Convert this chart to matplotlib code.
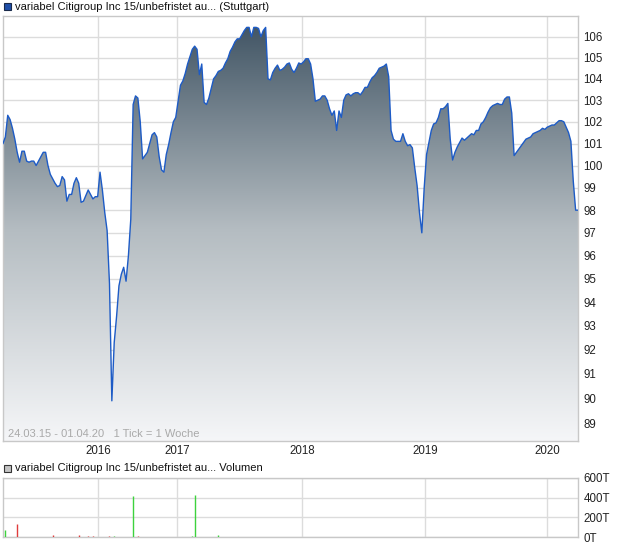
import numpy as np
import matplotlib
matplotlib.use("Agg")
import matplotlib.pyplot as plt
from matplotlib.colors import LinearSegmentedColormap
from matplotlib.ticker import FixedLocator, NullLocator, FixedFormatter
from matplotlib.patches import Rectangle

plt.rcParams["font.family"] = ["Liberation Sans", "DejaVu Sans"]

# weekly closing prices, 24.03.15 - 01.04.20 (1 tick = 1 week)
price = [
    101.0, 101.3, 102.3, 102.1, 101.7, 101.2, 100.6, 100.15, 100.65, 100.65,
    100.2, 100.15, 100.2, 100.2, 100.0, 100.2, 100.4, 100.6, 100.6, 100.0,
    99.6, 99.4, 99.2, 99.05, 99.1, 99.5, 99.35, 98.4, 98.7, 98.7,
    99.2, 99.45, 99.2, 98.35, 98.4, 98.65, 98.9, 98.7, 98.5, 98.6,
    98.6, 99.7, 98.9, 97.9, 97.1, 94.8, 89.9, 92.3, 93.4, 94.7,
    95.2, 95.5, 94.9, 96.0, 97.6, 102.8, 103.2, 103.1, 102.0, 100.3,
    100.45, 100.6, 101.0, 101.4, 101.5, 101.3, 100.4, 99.8, 99.7, 100.5,
    100.95, 101.5, 102.0, 102.2, 102.95, 103.7, 103.9, 104.25, 104.7, 105.05,
    105.4, 105.55, 105.4, 104.2, 104.7, 102.9, 102.8, 103.1, 103.55, 104.0,
    104.15, 104.35, 104.4, 104.5, 104.75, 104.95, 105.3, 105.5, 105.75, 105.9,
    105.9, 106.1, 106.3, 106.45, 106.45, 106.0, 106.45, 106.45, 106.4, 106.0,
    106.3, 106.45, 104.0, 103.95, 104.3, 104.5, 104.65, 104.4, 104.45, 104.55,
    104.7, 104.75, 104.45, 104.3, 104.5, 104.75, 104.7, 104.8, 104.95, 104.95,
    104.7, 104.0, 102.95, 103.0, 103.05, 103.2, 103.2, 103.0, 102.6, 102.3,
    102.5, 101.6, 102.5, 102.2, 103.0, 103.25, 103.3, 103.2, 103.3, 103.35,
    103.35, 103.25, 103.4, 103.6, 103.6, 103.85, 104.05, 104.15, 104.3, 104.5,
    104.55, 104.6, 104.7, 104.1, 101.6, 101.2, 101.1, 101.1, 101.1, 101.45,
    101.1, 100.9, 100.95, 100.8, 99.9, 99.1, 97.9, 97.0, 99.0, 100.5,
    101.05, 101.6, 101.9, 101.95, 102.2, 102.6, 102.6, 102.7, 102.85, 101.2,
    100.25, 100.6, 100.85, 101.05, 101.25, 101.15, 101.25, 101.35, 101.45, 101.4,
    101.6, 101.6, 101.9, 102.0, 102.2, 102.45, 102.65, 102.75, 102.8, 102.85,
    102.8, 102.8, 103.05, 103.15, 103.15, 102.4, 100.45, 100.6, 100.75, 100.9,
    101.05, 101.2, 101.25, 101.3, 101.45, 101.5, 101.55, 101.6, 101.7, 101.65,
    101.75, 101.8, 101.85, 101.85, 101.95, 102.05, 102.05, 102.0, 101.75, 101.5,
    101.1, 99.3, 98.0, 98.0,
]

year_labels = ["2016", "2017", "2018", "2019", "2020"]
year_ticks = [40.2, 73.5, 126.4, 178.4, 229.9]
price_ticks = list(range(89, 107))

# volume (thousands) for weeks with trades
vol_week = [1, 6, 21, 32, 36, 38, 45, 47, 50, 55, 57, 80, 81, 91, 97, 130, 156]
vol_value = [72, 130, 20, 20, 15, 15, 15, 15, 5, 422, 15, 15, 432, 25, 5, 5, 5]
vol_up = [1, 0, 0, 0, 0, 0, 0, 1, 1, 1, 0, 1, 1, 1, 1, 0, 1]
vol_ticks = [0, 200, 400, 600]

GRID = "#dcdcdc"
FRAME = "#c8c8c8"
LINE = "#1d5bc6"
W, H = 620, 546

fig = plt.figure(figsize=(W / 100, H / 100), dpi=100)


def frac(x0, y0, x1, y1):
    return [x0 / W, 1 - y1 / H, (x1 - x0) / W, (y1 - y0) / H]


# ---- price panel ----
ax = fig.add_axes(frac(3, 16, 578, 441))
x = np.arange(len(price))
ax.set_yscale("log")

poly = ax.fill_between(x, price, 80, color="none", lw=0)
cmap = LinearSegmentedColormap.from_list("g", ["#f5f6f8", "#b4bcc1", "#3d5161"])
grad = np.linspace(0, 1, 256).reshape(-1, 1)
img = ax.imshow(grad, extent=(0, 1, 0, 1), transform=ax.transAxes, origin="lower",
                aspect="auto", cmap=cmap, zorder=2, interpolation="bilinear")
img.set_clip_path(poly.get_paths()[0], ax.transData)
ax.plot(x, price, color=LINE, lw=1.0, zorder=3)

ax.set_xlim(0, len(price) - 1)
ax.set_ylim(88.28, 107.0)
ax.yaxis.set_major_locator(FixedLocator(price_ticks))
ax.yaxis.set_major_formatter(FixedFormatter([str(t) for t in price_ticks]))
ax.yaxis.set_minor_locator(NullLocator())
ax.yaxis.tick_right()
ax.set_xticks(year_ticks)
ax.set_xticklabels(year_labels)
ax.tick_params(axis="y", length=0, pad=4, labelsize=8.3, labelcolor="#222222")
ax.tick_params(axis="x", length=0, pad=3, labelsize=8.3, labelcolor="#222222")
ax.grid(True, color=GRID, lw=1, zorder=0)
ax.set_axisbelow(True)
for s in ax.spines.values():
    s.set_color(FRAME)
    s.set_linewidth(1)
ax.text(0.009, 0.016, "24.03.15 - 01.04.20   1 Tick = 1 Woche", transform=ax.transAxes,
        fontsize=8, color="#a9a9a9", ha="left", va="center", zorder=4)

# ---- volume panel ----
av = fig.add_axes(frac(3, 478, 578, 537))
vcol = ["#3dd23d" if u else "#e03c3c" for u in vol_up]
av.vlines(vol_week, 0, vol_value, colors=vcol, lw=1.0, zorder=3)
av.set_xlim(0, len(price) - 1)
av.set_ylim(0, 600)
av.yaxis.tick_right()
av.set_yticks(vol_ticks)
av.set_yticklabels([f"{v}T" for v in vol_ticks])
av.set_xticks(year_ticks)
av.set_xticklabels([])
av.tick_params(axis="both", length=0, labelsize=8.3, labelcolor="#222222")
av.tick_params(axis="y", pad=4)
av.grid(True, color=GRID, lw=1, zorder=0)
av.set_axisbelow(True)
for s in av.spines.values():
    s.set_color(FRAME)
    s.set_linewidth(1)

# ---- legend rows ----
fig.patches.append(Rectangle((4 / W, 1 - 10 / H), 7 / W, 7 / H, transform=fig.transFigure,
                             fc="#1f4fa8", ec="#1a2a4a", lw=0.8))
fig.text(15 / W, 1 - 7 / H, "variabel Citigroup Inc 15/unbefristet au... (Stuttgart)",
         fontsize=8.0, color="#111111", ha="left", va="center")
fig.patches.append(Rectangle((4 / W, 1 - 472 / H), 7 / W, 7 / H, transform=fig.transFigure,
                             fc="#c4c4c4", ec="#333333", lw=0.8))
fig.text(15 / W, 1 - 468 / H, "variabel Citigroup Inc 15/unbefristet au... Volumen",
         fontsize=8.0, color="#111111", ha="left", va="center")

fig.savefig("out.png", dpi=100, facecolor="white")
